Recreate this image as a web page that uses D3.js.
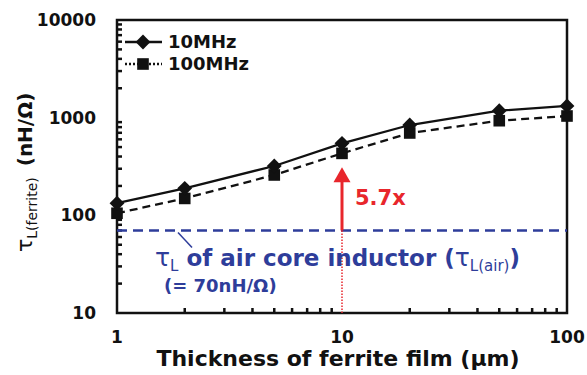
<!DOCTYPE html>
<html>
<head>
<meta charset="utf-8">
<script src="https://cdn.jsdelivr.net/npm/d3@7"></script>
<style>
  html, body { margin: 0; padding: 0; background: #fff; }
  svg { display: block; font-family: "DejaVu Sans", Verdana, sans-serif; font-weight: bold; }
</style>
</head>
<body>
<div id="chart"></div>
<script>
// thickness of ferrite film (um)
const thickness = [1, 2, 5, 10, 20, 50, 100];
// tau_L(ferrite) in nH/Ohm
const tau10MHz = [133, 189, 320, 546, 841, 1178, 1320];
const tau100MHz = [105, 149, 259, 431, 697, 931, 1040];
const tauAir = 70;
const xTickLabels = [1, 10, 100];
const yTickLabels = [10, 100, 1000, 10000];

const width = 587, height = 375;
const margin = { left: 117, right: 20, top: 20, bottom: 62 };

const svg = d3.select("#chart").append("svg")
  .attr("width", width).attr("height", height);

const x = d3.scaleLog().domain([1, 100]).range([margin.left, width - margin.right]);
const y = d3.scaleLog().domain([10, 10000]).range([height - margin.bottom, margin.top]);

const ink = "#111";
const blue = "#2e3d9a";
const red = "#e8262c";

// minor ticks inside plot
const xMinor = [];
for (let d = 1; d < 100; d *= 10) for (let k = 2; k <= 9; k++) xMinor.push(d * k);
const yMinor = [];
for (let d = 10; d < 10000; d *= 10) for (let k = 2; k <= 9; k++) yMinor.push(d * k);

const tickG = svg.append("g").attr("stroke", ink);
tickG.selectAll(".xt").data(xMinor).join("line")
  .attr("x1", d => x(d)).attr("x2", d => x(d))
  .attr("y1", y(10)).attr("y2", y(10) - 5).attr("stroke-width", 2.5);
tickG.selectAll(".yt").data(yMinor).join("line")
  .attr("x1", x(1)).attr("x2", x(1) + 5)
  .attr("y1", d => y(d)).attr("y2", d => y(d)).attr("stroke-width", 2.5);

// frame
svg.append("rect")
  .attr("x", x(1)).attr("y", y(10000))
  .attr("width", x(100) - x(1)).attr("height", y(10) - y(10000))
  .attr("fill", "none").attr("stroke", ink).attr("stroke-width", 2.5);

// tick labels
svg.append("g").selectAll("text").data(xTickLabels).join("text")
  .attr("x", d => x(d)).attr("y", y(10) + 30)
  .attr("text-anchor", "middle").attr("font-size", 17).attr("fill", ink)
  .text(d => d);
svg.append("g").selectAll("text").data(yTickLabels).join("text")
  .attr("x", x(1) - 21).attr("y", d => y(d)).attr("dy", "0.36em")
  .attr("text-anchor", "end").attr("font-size", 17).attr("fill", ink)
  .text(d => d);

// axis titles
svg.append("text")
  .attr("x", 338).attr("y", height - 9)
  .attr("text-anchor", "middle").attr("font-size", 22).attr("fill", ink)
  .text("Thickness of ferrite film (\u03bcm)");

const yt = svg.append("text")
  .attr("transform", `translate(32,252) rotate(-90)`)
  .attr("text-anchor", "start").attr("fill", ink);
yt.append("tspan").attr("font-size", 22).attr("font-weight", "normal").text("\u03c4");
yt.append("tspan").attr("font-size", 14).attr("font-weight", "normal").attr("dy", 5).text("L(ferrite)");
yt.append("tspan").attr("font-size", 20).attr("dy", -5).text("\u2009 (nH/\u03a9)");

// air-core reference line
svg.append("line")
  .attr("x1", x(1)).attr("x2", x(100))
  .attr("y1", y(tauAir)).attr("y2", y(tauAir))
  .attr("stroke", blue).attr("stroke-width", 2.5).attr("stroke-dasharray", "10,6");

// red dotted + arrow at 10 um
svg.append("line")
  .attr("x1", x(10)).attr("x2", x(10))
  .attr("y1", y(tauAir)).attr("y2", y(10))
  .attr("stroke", red).attr("stroke-width", 1.5).attr("stroke-dasharray", "1.5,1.5");
const arrowTop = y(tau100MHz[3]) + 14;
svg.append("line")
  .attr("x1", x(10)).attr("x2", x(10))
  .attr("y1", y(tauAir)).attr("y2", arrowTop + 12)
  .attr("stroke", red).attr("stroke-width", 3);
svg.append("path")
  .attr("d", `M${x(10)},${arrowTop} L${x(10) - 8.5},${arrowTop + 15} L${x(10) + 8.5},${arrowTop + 15} Z`)
  .attr("fill", red);
svg.append("text")
  .attr("x", x(10) + 13).attr("y", 205)
  .attr("font-size", 21).attr("fill", red).text("5.7x");

// series lines
const line = d3.line().x((d, i) => x(thickness[i])).y(d => y(d));
svg.append("path").datum(tau10MHz).attr("d", line)
  .attr("fill", "none").attr("stroke", ink).attr("stroke-width", 2.3);
svg.append("path").datum(tau100MHz).attr("d", line)
  .attr("fill", "none").attr("stroke", ink).attr("stroke-width", 2.3)
  .attr("stroke-dasharray", "8,5");

const diamond = d3.symbol().type(d3.symbolSquare).size(110);
const square = d3.symbol().type(d3.symbolSquare).size(135);
svg.append("g").selectAll("path").data(tau100MHz).join("path")
  .attr("transform", (d, i) => `translate(${x(thickness[i])},${y(d)})`)
  .attr("d", square).attr("fill", ink);
svg.append("g").selectAll("path").data(tau10MHz).join("path")
  .attr("transform", (d, i) => `translate(${x(thickness[i])},${y(d)}) rotate(45)`)
  .attr("d", diamond).attr("fill", ink);

// legend
const lg = svg.append("g");
lg.append("line").attr("x1", 125).attr("x2", 162).attr("y1", 42).attr("y2", 42)
  .attr("stroke", ink).attr("stroke-width", 2.5);
lg.append("path").attr("transform", "translate(143,42) rotate(45)").attr("d", diamond).attr("fill", ink);
lg.append("text").attr("x", 168).attr("y", 42).attr("dy", "0.36em")
  .attr("font-size", 18).attr("fill", ink).text("10MHz");
lg.append("line").attr("x1", 125).attr("x2", 162).attr("y1", 64).attr("y2", 64)
  .attr("stroke", ink).attr("stroke-width", 2.5).attr("stroke-dasharray", "2,2");
lg.append("path").attr("transform", "translate(143,64)").attr("d", square).attr("fill", ink);
lg.append("text").attr("x", 168).attr("y", 64).attr("dy", "0.36em")
  .attr("font-size", 18).attr("fill", ink).text("100MHz");

// air-core annotation
svg.append("line")
  .attr("x1", 178).attr("y1", y(tauAir) + 2).attr("x2", 192).attr("y2", y(tauAir) + 17)
  .attr("stroke", blue).attr("stroke-width", 1.5);
const at = svg.append("text").attr("x", 155).attr("y", 266).attr("fill", blue);
at.append("tspan").attr("font-size", 25).attr("font-weight", "normal").text("\u03c4");
at.append("tspan").attr("font-size", 15).attr("font-weight", "normal").attr("dy", 5).text("L");
at.append("tspan").attr("font-size", 23).attr("dy", -5).text(" of air core inductor (");
at.append("tspan").attr("font-size", 25).attr("font-weight", "normal").text("\u03c4");
at.append("tspan").attr("font-size", 15).attr("font-weight", "normal").attr("dy", 5).text("L(air)");
at.append("tspan").attr("font-size", 23).attr("dy", -5).text(")");
svg.append("text").attr("x", 164).attr("y", 292).attr("fill", blue)
  .attr("font-size", 18).text("(= 70nH/\u03a9)");
</script>
</body>
</html>
